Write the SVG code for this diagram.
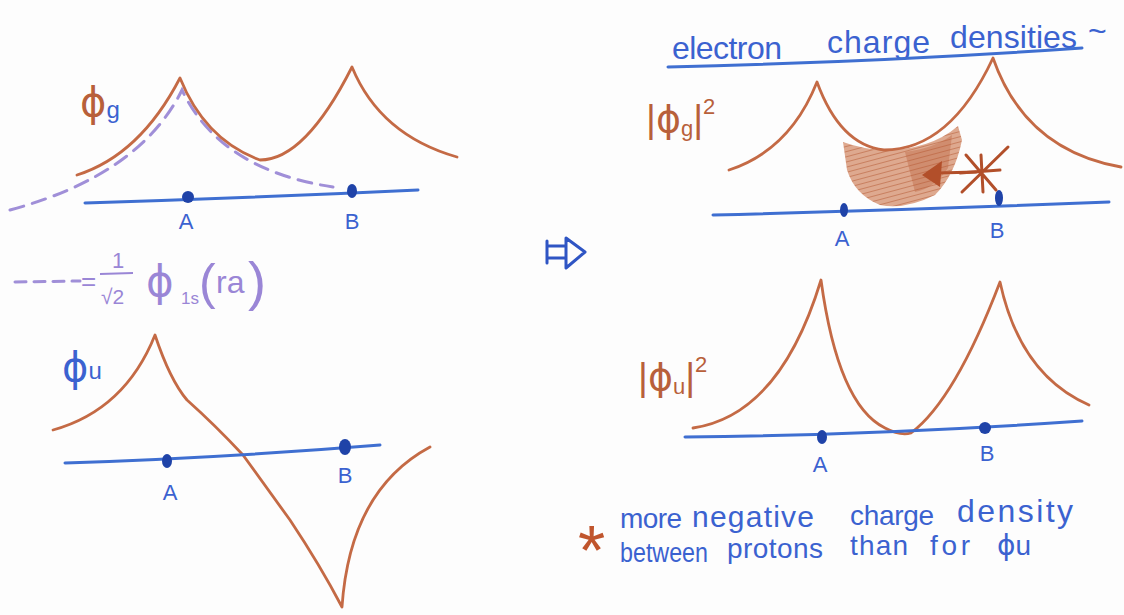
<svg xmlns="http://www.w3.org/2000/svg" width="1124" height="615" viewBox="0 0 1124 615">
<defs>
<pattern id="hatch" width="5" height="5" patternUnits="userSpaceOnUse" patternTransform="rotate(75)">
  <rect width="5" height="5" fill="#d99a7c"/>
  <line x1="0" y1="0" x2="0" y2="5" stroke="#bf6a44" stroke-width="2"/>
</pattern>
</defs>
<style>
.bg{fill:#fdfdfd}
.cur{fill:none;stroke:#c46a45;stroke-width:2.8;stroke-linecap:round;stroke-linejoin:round}
.ax{fill:none;stroke:#3f6fd1;stroke-width:3;stroke-linecap:round}
.dot{fill:#1f43a8}
.dash{fill:none;stroke:#a08fd8;stroke-width:3;stroke-dasharray:14 9;stroke-linecap:round}
.bt{font-family:"Liberation Sans",Arial,sans-serif;fill:#3b62d0}
.ot{font-family:"Liberation Sans",Arial,sans-serif;fill:#b8603a}
.pt{font-family:"Liberation Sans",Arial,sans-serif;fill:#9a86d6}
.ph{font-family:"DejaVu Sans","Liberation Sans",sans-serif}
.ab{font-size:22px;text-anchor:middle}
.w1{font-size:32px}
.w2{font-size:28px}
.mk{fill:none;stroke:#b24f2a;stroke-width:3;stroke-linecap:round}
</style>
<rect class="bg" x="0" y="0" width="1124" height="615"/>

<g id="panel-phi-g">
  <path class="dash" d="M10,210 Q140,175 182,90 Q220,170 333,187"/>
  <path class="cur" d="M77,175 Q140,155 180,78 Q205,140 260,160 Q305,160 352,67 Q380,135 457,157"/>
  <path class="ax" d="M85,203 Q250,198 418,190"/>
  <circle class="dot" cx="188" cy="197" r="6"/>
  <ellipse class="dot" cx="352" cy="191" rx="5" ry="7"/>
  <text class="bt ab" x="186" y="229">A</text>
  <text class="bt ab" x="352" y="229">B</text>
  <text class="ot ph" x="80" y="116" font-size="40">ϕ<tspan class="bt" font-family="Liberation Sans, sans-serif" font-size="24" dy="2">g</tspan></text>
</g>

<g id="legend">
  <path class="dash" d="M15,282 L80,281" style="stroke-dasharray:11 8"/>
  <text class="pt" x="81" y="290" font-size="26">=</text>
  <text class="pt" x="112" y="268" font-size="22">1</text>
  <path d="M100,274 L133,273" stroke="#9a86d6" stroke-width="2" fill="none"/>
  <text class="pt" x="101" y="304" font-size="21">√2</text>
  <text class="pt ph" x="146" y="296" font-size="42">ϕ</text>
  <text class="pt" x="181" y="304" font-size="17">1s</text>
  <text class="pt" x="199" y="299" font-size="50">(</text>
  <text class="pt" x="216" y="293" font-size="32">ra</text>
  <text class="pt" x="248" y="300" font-size="54">)</text>
</g>

<g id="panel-phi-u">
  <path class="cur" d="M53,430 Q125,410 155,335 Q170,380 187,400 Q215,425 243,455 L290,520 Q320,565 342,607 Q350,490 430,447"/>
  <path class="ax" d="M65,463 Q220,458 380,445"/>
  <ellipse class="dot" cx="167" cy="461" rx="5" ry="7"/>
  <ellipse class="dot" cx="345" cy="447" rx="6" ry="8"/>
  <text class="bt ab" x="170" y="500">A</text>
  <text class="bt ab" x="345" y="483">B</text>
  <text class="bt ph" x="62" y="381" font-size="40">ϕ<tspan font-family="Liberation Sans, sans-serif" font-size="24" dy="-2">u</tspan></text>
</g>

<g id="implies-arrow">
  <path d="M547,246 L566,246 M547,258 L566,258 M547,241 L547,263 M566,238 L585,252 L566,268 Z" fill="none" stroke="#2f55c4" stroke-width="3" stroke-linejoin="round" stroke-linecap="round"/>
</g>

<g id="title">
  <text class="bt w1" x="672" y="59" textLength="110" lengthAdjust="spacing">electron</text>
  <text class="bt w1" x="827" y="53" textLength="103" lengthAdjust="spacing">charge</text>
  <text class="bt w1" x="950" y="48" textLength="127" lengthAdjust="spacing">densities</text>
  <text class="bt w1" x="1088" y="42">~</text>
  <path class="ax" d="M668,67 Q880,62 1082,48"/>
</g>

<g id="panel-density-g">
  <path d="M843,142 Q862,149 884,150 Q930,150 958,126 L962,140 Q955,175 935,195 Q905,210 880,205 Q855,195 847,170 Z" fill="url(#hatch)" fill-opacity="0.85"/>
  <path d="M905,152 Q935,148 952,135 L948,168 Q935,188 915,192 Z" fill="#b85a35" fill-opacity="0.35"/>
  <path class="cur" d="M729,170 Q790,150 817,82 Q840,145 884,150 Q950,150 993,58 Q1025,150 1121,167"/>
  <path class="ax" d="M713,215 Q910,210 1109,202"/>
  <ellipse class="dot" cx="844" cy="210" rx="4" ry="7"/>
  <ellipse class="dot" cx="999" cy="198" rx="4" ry="8"/>
  <text class="bt ab" x="842" y="246">A</text>
  <text class="bt ab" x="997" y="238">B</text>
  <text class="ot" x="646" y="132" font-size="38">|<tspan class="ph">ϕ</tspan><tspan font-size="22" dy="4">g</tspan><tspan dy="-4" font-size="38">|</tspan><tspan font-size="22" dy="-18">2</tspan></text>
  <g id="star-arrow">
    <path class="mk" d="M976,172 L938,173"/>
    <polygon points="922,175 942,161 940,187" fill="#b24f2a"/>
    <path class="mk" d="M962,192 L1008,147 M966,155 L996,190 M960,173 L1000,170 M981,155 L983,192"/>
  </g>
</g>

<g id="panel-density-u">
  <path class="cur" d="M693,428 Q780,415 821,280 Q838,405 885,428 Q900,436 911,433 Q955,400 1000,282 Q1020,375 1089,405"/>
  <path class="ax" d="M685,437 Q880,435 1082,421"/>
  <ellipse class="dot" cx="822" cy="437" rx="5" ry="7"/>
  <circle class="dot" cx="985" cy="428" r="6"/>
  <text class="bt ab" x="820" y="472">A</text>
  <text class="bt ab" x="987" y="461">B</text>
  <text class="ot" x="638" y="390" font-size="38">|<tspan class="ph">ϕ</tspan><tspan font-size="22" dy="4">u</tspan><tspan dy="-4" font-size="38">|</tspan><tspan font-size="22" dy="-18">2</tspan></text>
</g>

<g id="footnote">
  <text class="ot" x="578" y="575" font-size="70" style="fill:#c0552d">*</text>
  <text class="bt w2" x="620" y="528" textLength="62" lengthAdjust="spacing">more</text>
  <text class="bt" x="692" y="527" font-size="30" textLength="122" lengthAdjust="spacing">negative</text>
  <text class="bt w2" x="850" y="525" textLength="84" lengthAdjust="spacing">charge</text>
  <text class="bt" x="957" y="522" font-size="32" textLength="116" lengthAdjust="spacing">density</text>
  <text class="bt" x="620" y="562" font-size="27" textLength="88" lengthAdjust="spacingAndGlyphs">between</text>
  <text class="bt w2" x="727" y="558" textLength="96" lengthAdjust="spacing">protons</text>
  <text class="bt w2" x="850" y="555" textLength="58" lengthAdjust="spacing">than</text>
  <text class="bt w2" x="930" y="555" textLength="40" lengthAdjust="spacing">for</text>
  <text class="bt w2" x="997" y="555"><tspan class="ph">ϕ</tspan>u</text>
</g>
</svg>
